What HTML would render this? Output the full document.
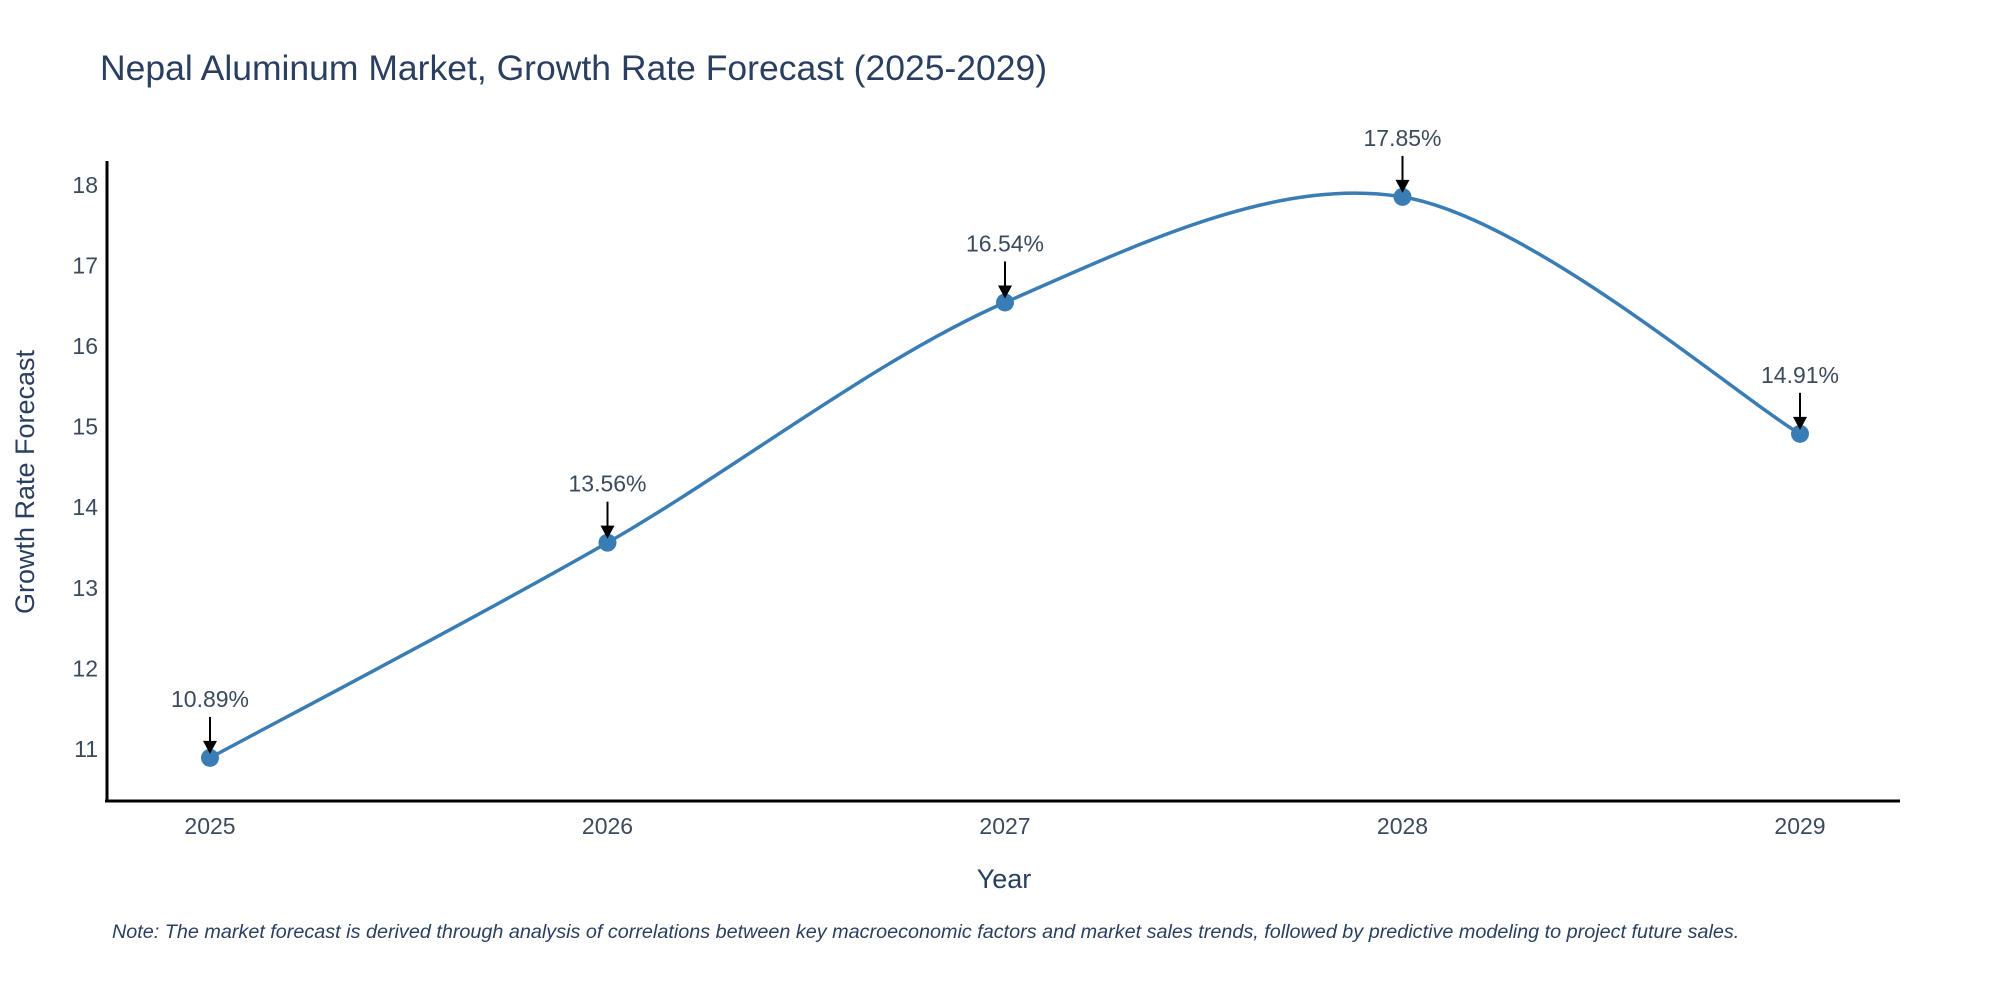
<!DOCTYPE html>
<html><head><meta charset="utf-8"><style>
body{margin:0;background:#fff;}
svg{display:block;font-family:"Liberation Sans",sans-serif;}
</style></head><body>
<svg width="2000" height="1000" viewBox="0 0 2000 1000">
<text x="100" y="80" font-size="35.5" fill="#2a3f5f">Nepal Aluminum Market, Growth Rate Forecast (2025-2029)</text>
<g id="yticks"></g><g id="xticks"></g>
<line x1="107" y1="161" x2="107" y2="802" stroke="#000" stroke-width="3"/>
<line x1="105" y1="801" x2="1900" y2="801" stroke="#000" stroke-width="3"/>
<path id="line" fill="none" stroke="#3a7db5" stroke-width="3.5"/>
<g id="marks"></g>
<text x="1004" y="888" font-size="27" fill="#2a3f5f" text-anchor="middle">Year</text>
<text transform="translate(34,482) rotate(-90)" font-size="27" fill="#2a3f5f" text-anchor="middle">Growth Rate Forecast</text>
<text x="112" y="938" font-size="19.8" font-style="italic" fill="#2a3f5f">Note: The market forecast is derived through analysis of correlations between key macroeconomic factors and market sales trends, followed by predictive modeling to project future sales.</text>
</svg>
<script>
const years=["2025","2026","2027","2028","2029"];
const values=[10.89,13.56,16.54,17.85,14.91];
const yTicks=[11,12,13,14,15,16,17,18];
const ns="http://www.w3.org/2000/svg";
const X=i=>210+i*397.5;
const Y=v=>749-(v-11)*80.6;
function mk(t,a,p){const e=document.createElementNS(ns,t);for(const k in a)e.setAttribute(k,a[k]);p.appendChild(e);return e;}
const yt=document.getElementById('yticks');
yTicks.forEach(v=>{const t=mk('text',{x:98,y:Y(v)+8,'font-size':23,fill:'#3b4a5c','text-anchor':'end'},yt);t.textContent=v;

});
const xt=document.getElementById('xticks');
years.forEach((y,i)=>{const t=mk('text',{x:X(i),y:834,'font-size':23,fill:'#3b4a5c','text-anchor':'middle'},xt);t.textContent=y;

});
const P=values.map((v,i)=>[X(i),Y(v)]);
let d=`M${P[0][0]},${P[0][1]}`;const s=0.16;
for(let i=0;i<P.length-1;i++){const p0=P[i-1]||P[i],p1=P[i],p2=P[i+1],p3=P[i+2]||P[i+1];
d+=` C${p1[0]+(p2[0]-p0[0])*s},${p1[1]+(p2[1]-p0[1])*s} ${p2[0]-(p3[0]-p1[0])*s},${p2[1]-(p3[1]-p1[1])*s} ${p2[0]},${p2[1]}`;}
document.getElementById('line').setAttribute('d',d);
const g=document.getElementById('marks');
values.forEach((v,i)=>{const x=X(i),y=Y(v);
const c=mk('circle',{cx:x,cy:y,r:9,fill:'#3a7db5'},g);


const l=mk('line',{x1:x,y1:y-41,x2:x,y2:y-16,stroke:'#000','stroke-width':2},g);


const a=mk('path',{d:`M${x-7},${y-17} L${x+7},${y-17} L${x},${y-4} Z`,fill:'#000'},g);


const t=mk('text',{x:x,y:y-51,'font-size':23,fill:'#3b4a5c','text-anchor':'middle'},g);t.textContent=v.toFixed(2)+'%';

});
</script>
</body></html>
